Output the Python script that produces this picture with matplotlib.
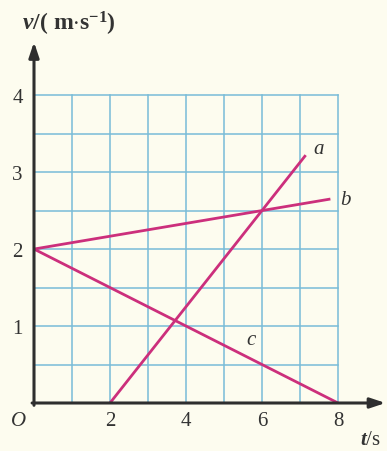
import matplotlib
matplotlib.use("Agg")
import matplotlib.pyplot as plt

plt.rcParams['font.family'] = ['Liberation Serif', 'DejaVu Serif']
plt.rcParams['mathtext.fontset'] = 'custom'
plt.rcParams['mathtext.rm'] = 'Liberation Serif'
plt.rcParams['mathtext.it'] = 'Liberation Serif:italic:bold'
plt.rcParams['mathtext.bf'] = 'Liberation Serif:bold'

# data
line_names = ['a', 'b', 'c']
line_t = [[2, 7.15], [0, 7.8], [0, 8]]
line_v = [[0, 3.22], [2, 2.65], [2, 0]]
label_pos = [(7.5, 3.3), (8.2, 2.65), (5.7, 0.82)]
xticks = [2, 4, 6, 8]
yticks = [1, 2, 3, 4]

bg = '#fdfcef'
grid_c = '#78bcd8'
line_c = '#cc2f7c'
axis_c = '#2e2e2e'
text_c = '#333333'

fig = plt.figure(figsize=(3.87, 4.52), dpi=100, facecolor=bg)
ax = fig.add_axes([34/387, 48/452, 351.5/387, 361/452])
ax.set_facecolor(bg)
ax.set_xlim(0, 9.25)
ax.set_ylim(0, 4.69)
for s in ax.spines.values():
    s.set_visible(False)

# grid
for gx in range(1, 9):
    ax.plot([gx, gx], [0, 4], color=grid_c, lw=1.1, zorder=1)
for k in range(1, 9):
    gy = k * 0.5
    ax.plot([0, 8], [gy, gy], color=grid_c, lw=1.1, zorder=1)

# lines
for name, t, v, (lx, ly) in zip(line_names, line_t, line_v, label_pos):
    ax.plot(t, v, color=line_c, lw=2.0, zorder=3, solid_capstyle='butt')
    ax.text(lx, ly, name, fontsize=15, style='italic', color=text_c,
            ha='center', va='center')

# axes with arrows
ax.annotate('', xy=(9.25, 0), xytext=(-0.05, 0),
            arrowprops=dict(arrowstyle='-|>,head_length=0.9,head_width=0.3',
                            color=axis_c, lw=2.2, shrinkA=0, shrinkB=0), zorder=4)
ax.annotate('', xy=(0, 4.69), xytext=(0, -0.03),
            arrowprops=dict(arrowstyle='-|>,head_length=0.9,head_width=0.3',
                            color=axis_c, lw=2.2, shrinkA=0, shrinkB=0), zorder=4)

ax.set_xticks(xticks)
ax.set_xticklabels([str(x) for x in xticks])
ax.set_yticks(yticks)
ax.set_yticklabels([str(y) for y in yticks])
ax.tick_params(length=0, labelsize=15, colors=text_c, pad=6)
ax.tick_params(axis='y', pad=8)

ax.text(-0.4, -0.1, 'O', fontsize=15, style='italic', color=text_c,
        ha='center', va='top')
fig.text(22/387, 1 - 24/452, r'$\mathit{v}\mathbf{/(\ m{\cdot}s^{-1})}$', fontsize=17,
         color=text_c, ha='left', va='center')
fig.text(370/387, 1 - 441/452, r'$\mathit{t}$/s', fontsize=15,
         color=text_c, ha='center', va='center')

fig.savefig('out.png', dpi=100, facecolor=bg)
